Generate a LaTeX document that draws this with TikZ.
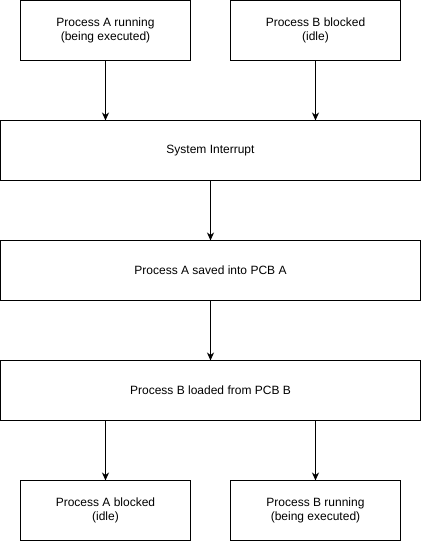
\documentclass[tikz,border=0pt]{standalone}
\usepackage{fontspec}
\setmainfont{Liberation Sans}
\usetikzlibrary{arrows.meta}
\begin{document}
\begin{tikzpicture}[x=1pt,y=-1pt,
  box/.style={draw=black,line width=1pt,rectangle,align=center,
    font=\fontsize{12}{14}\selectfont,inner sep=0pt,outer sep=0pt},
  smallbox/.style={box,minimum width=170pt,minimum height=60pt},
  widebox/.style={box,minimum width=420pt,minimum height=60pt},
  flow/.style={draw=black,line width=1pt,-{Stealth[length=8pt,width=7pt,inset=2.5pt]}}]
\useasboundingbox (0,0) rectangle (421,541);
% top row: the two processes before the interrupt
\node[smallbox] (arun) at (105.5,30.5) {Process A running\\(being executed)};
\node[smallbox] (bblk) at (315.5,30.5) {Process B blocked\\(idle)};
% context switch steps
\node[widebox] (intr) at (210.5,150.5) {System Interrupt};
\node[widebox] (save) at (210.5,270.5) {Process A saved into PCB A};
\node[widebox] (load) at (210.5,390.5) {Process B loaded from PCB B};
% bottom row: the two processes after the switch
\node[smallbox] (ablk) at (105.5,510.5) {Process A blocked\\(idle)};
\node[smallbox] (brun) at (315.5,510.5) {Process B running\\(being executed)};
% connectors
\draw[flow] (arun.south) -- (arun.south |- intr.north);
\draw[flow] (bblk.south) -- (bblk.south |- intr.north);
\draw[flow] (intr.south) -- (save.north);
\draw[flow] (save.south) -- (load.north);
\draw[flow] (load.south -| ablk.north) -- (ablk.north);
\draw[flow] (load.south -| brun.north) -- (brun.north);
\end{tikzpicture}
\end{document}
